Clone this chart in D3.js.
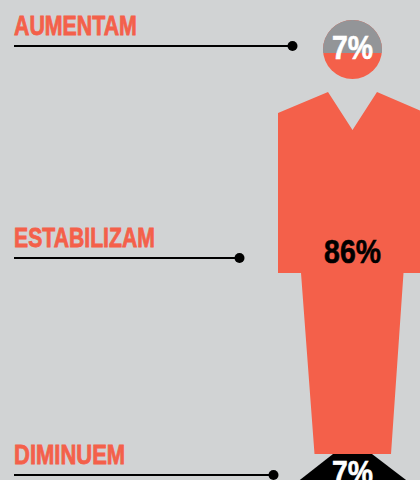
<!DOCTYPE html>
<html>
<head>
<meta charset="utf-8">
<script src="https://cdn.jsdelivr.net/npm/d3@7"></script>
<style>
  html, body { margin: 0; padding: 0; background: #d1d3d4; overflow: hidden; }
  svg { display: block; }
  text { font-family: "Liberation Sans", sans-serif; font-weight: 700; }
</style>
</head>
<body>
<div id="chart"></div>
<script>
// Share of respondents per outcome
const categories = ["AUMENTAM", "ESTABILIZAM", "DIMINUEM"];
const shares = [7, 86, 7];

const width = 420, height = 480;
const orange = "#f4604a", grey = "#939598", ink = "#000000";

// Layout of each row: label baseline, leader line height and leader end
const labelBaseline = [35, 247, 464];
const leaderY = [46, 258, 475];
const leaderEnd = [292.5, 239.5, 273.5];
const valueBaseline = [59, 263, 484];
const valueColour = ["#ffffff", ink, "#ffffff"];

// Condensed headline look: the sans is narrowed horizontally and slightly emboldened
const labelNarrow = [0.79, 0.785, 0.815];
const valueNarrow = 0.86;

// Silhouette drawn in its own figure units (one unit is one pixel at this size)
const x = d3.scaleLinear().domain([0, 142]).range([278, 420]);
const y = d3.scaleLinear().domain([0, 460]).range([20, 480]);

const bodyOutline = [
  [0, 93], [50, 72], [74.5, 110], [99, 72], [142, 90.5], [142, 253],
  [125.5, 253], [113, 434], [36.5, 434], [23, 253], [0, 253]
];
const baseOutline = [[55, 434], [94, 434], [132, 463], [18, 463]];
const head = { cx: 74.5, cy: 29.5, r: 29.5, split: 33 };

const svg = d3.select("#chart").append("svg")
  .attr("width", width).attr("height", height);

svg.append("rect").attr("width", width).attr("height", height).attr("fill", "#d1d3d4");

const outline = d3.line().x(d => x(d[0])).y(d => y(d[1])).curve(d3.curveLinearClosed);

// Head, split into two tones
const clip = svg.append("defs").append("clipPath").attr("id", "head-top");
clip.append("rect")
  .attr("x", x(head.cx - head.r)).attr("y", y(head.cy - head.r))
  .attr("width", head.r * 2).attr("height", head.split);

svg.append("circle")
  .attr("cx", x(head.cx)).attr("cy", y(head.cy)).attr("r", head.r)
  .attr("fill", orange);
svg.append("circle")
  .attr("cx", x(head.cx)).attr("cy", y(head.cy)).attr("r", head.r)
  .attr("fill", grey).attr("clip-path", "url(#head-top)");

svg.append("path").attr("d", outline(bodyOutline)).attr("fill", orange);
svg.append("path").attr("d", outline(baseOutline)).attr("fill", ink);

// Category labels with leader lines
const rows = svg.selectAll("g.row").data(categories).join("g").attr("class", "row");

rows.append("text")
  .attr("transform", (d, i) => `translate(14,${labelBaseline[i]}) scale(${labelNarrow[i]},1)`)
  .attr("font-size", 27)
  .attr("fill", orange)
  .attr("stroke", orange)
  .attr("stroke-width", 0.8)
  .text(d => d);

rows.append("line")
  .attr("x1", 14)
  .attr("x2", (d, i) => leaderEnd[i])
  .attr("y1", (d, i) => leaderY[i])
  .attr("y2", (d, i) => leaderY[i])
  .attr("stroke", ink)
  .attr("stroke-width", 1.8);

rows.append("circle")
  .attr("cx", (d, i) => leaderEnd[i])
  .attr("cy", (d, i) => leaderY[i])
  .attr("r", 5)
  .attr("fill", ink);

// Percentages on the figure
svg.selectAll("text.value").data(shares).join("text")
  .attr("class", "value")
  .attr("transform", (d, i) => `translate(${x(head.cx)},${valueBaseline[i]}) scale(${valueNarrow},1)`)
  .attr("text-anchor", "middle")
  .attr("font-size", 33)
  .attr("fill", (d, i) => valueColour[i])
  .attr("stroke", (d, i) => valueColour[i])
  .attr("stroke-width", 0.6)
  .text(d => d + "%");
</script>
</body>
</html>
